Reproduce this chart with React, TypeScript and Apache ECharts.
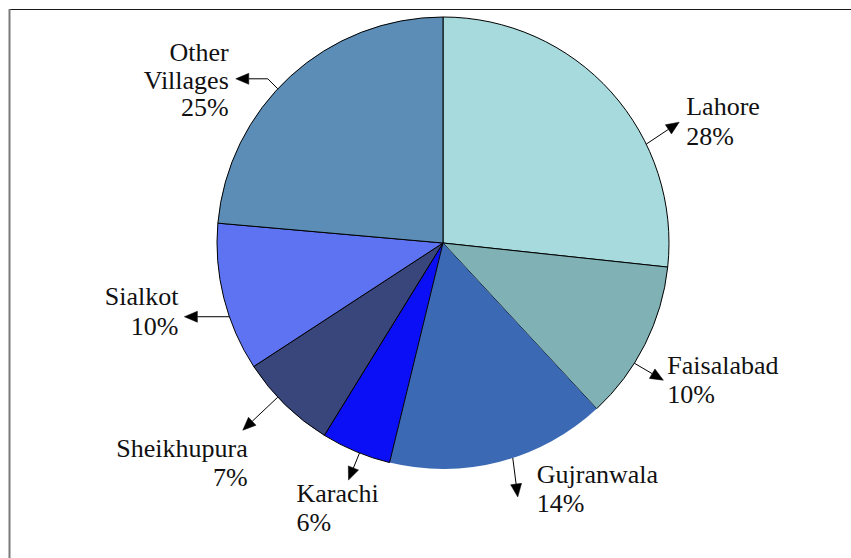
import React, { useEffect, useRef } from "react";
import * as echarts from "echarts";

// ---- data ----
const cities = ["Lahore", "Faisalabad", "Gujranwala", "Karachi", "Sheikhupura", "Sialkot", "Other Villages"];
const labelNames = ["Lahore", "Faisalabad", "Gujranwala", "Karachi", "Sheikhupura", "Sialkot", "Other\nVillages"];
const shares = [26.7, 11.4, 15.7, 5.0, 7.0, 10.6, 23.6];
const percentLabels = ["28%", "10%", "14%", "6%", "7%", "10%", "25%"];

// ---- styles / layout ----
const colors = ["#A7DADD", "#80B1B4", "#3C69B4", "#0B0FF6", "#38467B", "#5E73F2", "#5B8DB6"];
const borderWidths = [1, 1, 0, 1, 1, 1, 1];
const CX = 443;
const CY = 243;
const R = 226;
const FONT = "26px 'Liberation Serif', 'Times New Roman', serif";
const leaderAngleAdjust = [16, 5.5, -3.4, -1, 2.7, -5, -4.5];
const tipOffsets: number[][] = [[33, -22], [29, 17], [5, 39], [-11, 27], [-35, 33], [-45, 0], [-42, -10]];
const elbowOffsets: (number[] | null)[] = [null, null, null, null, null, null, [-10, -10]];
const labelOffsets: number[][] = [[7, -31], [4, -29], [19, -37], [-52, -1], [5, 4], [-6, -35], [-7, -40]];
const labelAligns = ["left", "left", "left", "left", "right", "right", "right"];
const labelLineHeights = [30, 29, 29, 29, 29, 30, 27.5];

function buildAnnotations() {
  const total = shares.reduce((a, b) => a + b, 0);
  const els: any[] = [];
  let cum = 0;
  shares.forEach((v, i) => {
    const a0 = -90 + (cum / total) * 360;
    cum += v;
    const a1 = -90 + (cum / total) * 360;
    const mid = ((a0 + a1) / 2 + leaderAngleAdjust[i]) * Math.PI / 180;
    const sx = CX + R * Math.cos(mid);
    const sy = CY + R * Math.sin(mid);
    const tx = sx + tipOffsets[i][0];
    const ty = sy + tipOffsets[i][1];
    const pts: number[][] = [[sx, sy]];
    const el = elbowOffsets[i];
    if (el) pts.push([sx + el[0], sy + el[1]]);
    const prev = pts[pts.length - 1];
    const dx = tx - prev[0];
    const dy = ty - prev[1];
    const len = Math.sqrt(dx * dx + dy * dy);
    const ux = dx / len;
    const uy = dy / len;
    const headLen = 13;
    const headW = 5.5;
    const bx = tx - ux * headLen;
    const by = ty - uy * headLen;
    pts.push([bx, by]);
    els.push({
      type: "polyline",
      silent: true,
      shape: { points: pts },
      style: { stroke: "#000", lineWidth: 1, fill: null },
      z: 10,
    });
    els.push({
      type: "polygon",
      silent: true,
      shape: {
        points: [
          [tx, ty],
          [bx - uy * headW, by + ux * headW],
          [bx + uy * headW, by - ux * headW],
        ],
      },
      style: { fill: "#000", stroke: "#000", lineWidth: 0.5 },
      z: 10,
    });
    els.push({
      type: "text",
      silent: true,
      x: tx + labelOffsets[i][0],
      y: ty + labelOffsets[i][1],
      style: {
        text: labelNames[i] + "\n" + percentLabels[i],
        font: FONT,
        fill: "#111",
        align: labelAligns[i],
        verticalAlign: "top",
        lineHeight: labelLineHeights[i],
      },
      z: 10,
    });
  });
  // frame
  els.push({
    type: "line",
    silent: true,
    shape: { x1: 9, y1: 9.5, x2: 851, y2: 9.5 },
    style: { stroke: "#1a1a1a", lineWidth: 1.2 },
  });
  els.push({
    type: "line",
    silent: true,
    shape: { x1: 9.5, y1: 9, x2: 9.5, y2: 558 },
    style: { stroke: "#7a7a7a", lineWidth: 2 },
  });
  return els;
}

export default function App() {
  const ref = useRef<HTMLDivElement>(null);
  useEffect(() => {
    if (!ref.current) return;
    const chart = echarts.init(ref.current, null, { renderer: "svg" });
    chart.setOption({
      animation: false,
      backgroundColor: "#ffffff",
      series: [
        {
          type: "pie",
          center: [CX, CY],
          radius: R,
          startAngle: 90,
          clockwise: true,
          silent: true,
          label: { show: false },
          labelLine: { show: false },
          emphasis: { disabled: true },
          data: cities.map((name, i) => ({
            name,
            value: shares[i],
            itemStyle: {
              color: colors[i],
              borderColor: "#000",
              borderWidth: borderWidths[i],
            },
          })),
        },
      ],
      graphic: buildAnnotations(),
    });
    return () => chart.dispose();
  }, []);
  return (
    <div
      ref={ref}
      style={{ position: "fixed", left: 0, top: 0, width: 851, height: 558, background: "#fff" }}
    />
  );
}
